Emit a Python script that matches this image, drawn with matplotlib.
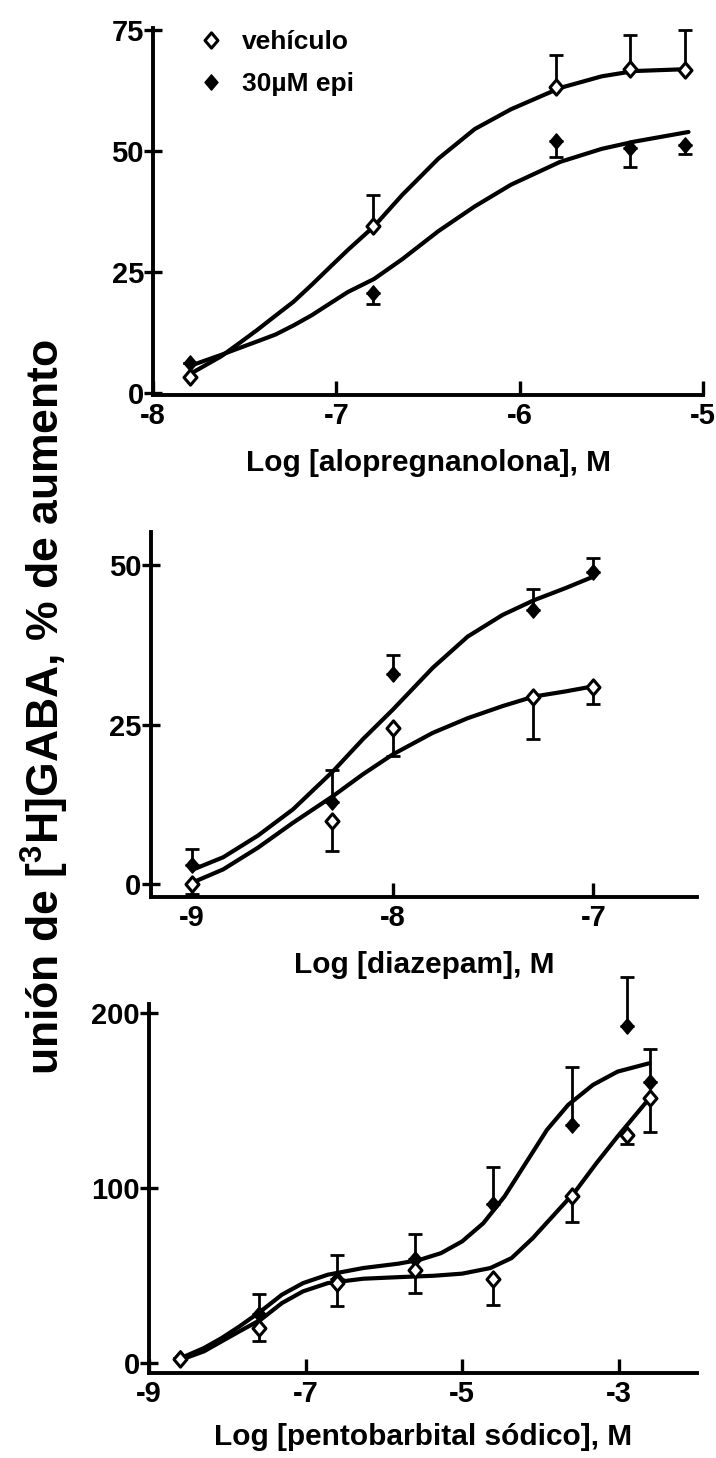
import matplotlib
matplotlib.use("Agg")
import matplotlib.pyplot as plt
from matplotlib.path import Path

plt.rcParams['font.family'] = ['Liberation Sans', 'DejaVu Sans']
plt.rcParams['font.weight'] = 'bold'
plt.rcParams['mathtext.fontset'] = 'custom'
plt.rcParams['mathtext.rm'] = 'Liberation Sans:bold'
plt.rcParams['mathtext.it'] = 'Liberation Sans:bold'
plt.rcParams['mathtext.bf'] = 'Liberation Sans:bold'

# ---- panel 1: alopregnanolona ----
alo_x = [-7.8, -6.8, -5.8, -5.4, -5.1]
alo_veh = [3.4, 34.6, 63.4, 67.1, 66.8]
alo_veh_err = [0, 6.4, 6.6, 6.9, 8.2]      # hacia arriba
alo_epi = [6.2, 20.7, 52.2, 50.7, 51.2]
alo_epi_err = [0, 2.2, 3.4, 3.9, 1.7]      # hacia abajo
alo_fit_x = [-7.80, -7.628, -7.53, -7.43, -7.332, -7.233, -7.134, -7.036, -6.937,
             -6.794, -6.64, -6.443, -6.245, -6.047, -5.78, -5.553, -5.375, -5.079]
alo_fit_veh = [3.9, 7.6, 10.3, 13.1, 16.0, 18.9, 22.4, 26.0, 29.6,
               34.5, 41.0, 48.5, 54.6, 58.7, 63.1, 65.5, 66.6, 67.0]
alo_fit_epi = [5.6, 7.9, 9.3, 10.7, 12.1, 14.0, 16.1, 18.5, 20.9,
               23.6, 27.7, 33.5, 38.6, 43.1, 47.8, 50.5, 52.0, 54.0]

# ---- panel 2: diazepam ----
dz_x = [-9, -8.3, -8, -7.3, -7]
dz_veh = [0, 9.9, 24.4, 29.4, 30.9]
dz_veh_err = [1.5, 4.8, 4.4, 6.6, 2.6]     # hacia abajo
dz_epi = [3.0, 12.9, 32.9, 42.9, 49.0]
dz_epi_err = [2.5, 4.9, 3.0, 3.4, 2.2]     # hacia arriba
dz_fit_x = [-8.991, -8.843, -8.67, -8.496, -8.296, -8.148, -8.0, -7.8,
            -7.626, -7.452, -7.296, -7.139, -7.0]
dz_fit_epi = [2.3, 4.2, 7.6, 11.7, 17.7, 22.7, 27.3, 33.9, 38.8, 42.2, 44.5, 46.4, 48.2]
dz_fit_veh = [0.3, 2.3, 5.7, 9.6, 13.8, 17.2, 20.3, 23.7, 26.0, 27.9, 29.4, 30.2, 31.0]

# ---- panel 3: pentobarbital ----
pb_x = [-8.6, -7.6, -6.6, -5.6, -4.6, -3.6, -2.9, -2.6]
pb_veh = [2.5, 20.0, 45.6, 52.9, 47.9, 95.1, 130.2, 151.5]
pb_veh_err = [0, 7.6, 13.3, 13.0, 14.6, 14.9, 5.1, 19.8]     # hacia abajo
pb_epi = [2.9, 28.1, 48.0, 59.5, 90.7, 135.6, 192.4, 160.1]
pb_epi_err = [0, 11.4, 13.8, 14.3, 21.1, 33.6, 28.1, 19.0]   # hacia arriba
pb_fit_epi_x = [-8.589, -8.296, -8.07, -7.844, -7.573, -7.302, -7.032, -6.716,
                -6.264, -5.813, -5.542, -5.27, -5.0, -4.729, -4.458, -4.187,
                -3.916, -3.646, -3.33, -3.014, -2.607]
pb_fit_epi = [2.9, 8.6, 14.3, 20.9, 29.5, 39.0, 45.6, 50.4, 54.2, 56.7, 58.9,
              62.7, 69.4, 79.8, 95.1, 114.1, 133.1, 147.3, 158.7, 166.3, 171.1]
pb_fit_veh_x = [-8.589, -8.296, -8.07, -7.844, -7.573, -7.302, -7.032, -6.716,
                -6.264, -5.813, -5.361, -5.0, -4.639, -4.368, -4.097, -3.826,
                -3.555, -3.284, -3.014, -2.607]
pb_fit_veh = [1.9, 6.7, 12.4, 18.1, 24.7, 34.2, 40.9, 45.6, 48.1, 49.0, 49.8,
              51.0, 54.2, 59.9, 71.3, 84.6, 97.9, 114.1, 129.3, 151.1]

diamond = Path([(0, 1), (0.85, 0), (0, -1), (-0.85, 0), (0, 1)],
               [Path.MOVETO, Path.LINETO, Path.LINETO, Path.LINETO, Path.CLOSEPOLY])

W, H = 716, 1458
fig = plt.figure(figsize=(W / 100, H / 100), dpi=100)


def make_ax(left, right, bottom_px, top_px):
    ax = fig.add_axes([left / W, 1 - bottom_px / H, (right - left) / W, (bottom_px - top_px) / H])
    ax.patch.set_visible(False)
    return ax


def style(ax, xlim, ylim, xticks, yticks, ybounds, xlabel, lab_y):
    ax.set_xlim(*xlim)
    ax.set_ylim(*ylim)
    ax.spines['top'].set_visible(False)
    ax.spines['right'].set_visible(False)
    for s in ('left', 'bottom'):
        ax.spines[s].set_linewidth(2.8)
    ax.spines['left'].set_bounds(*ybounds)
    ax.set_xticks(xticks)
    ax.set_yticks(yticks)
    ax.set_xticklabels([str(t) for t in xticks])
    ax.set_yticklabels([str(t) for t in yticks])
    ax.tick_params(axis='x', direction='in', length=10, width=2.4, labelsize=21, pad=5)
    ax.tick_params(axis='y', direction='inout', length=13, width=2.4, labelsize=21, pad=0)
    ax.set_xlabel(xlabel, fontsize=21.5, fontweight='bold')
    ax.xaxis.label.set_va('center')
    ax.xaxis.set_label_coords(0.5, lab_y)


def draw(ax, x, veh, veh_err, veh_up, epi, epi_err, epi_up, fvx, fveh, fex, fepi):
    ax.plot(fvx, fveh, color='black', lw=3.0, zorder=2, solid_capstyle='round')
    ax.plot(fex, fepi, color='black', lw=3.0, zorder=2, solid_capstyle='round')
    z = [0] * len(x)
    ve = [z, veh_err] if veh_up else [veh_err, z]
    ee = [z, epi_err] if epi_up else [epi_err, z]
    ax.errorbar(x, epi, yerr=ee, fmt='none', ecolor='black', elinewidth=2.0,
                capsize=5, capthick=2.0, zorder=3)
    ax.errorbar(x, veh, yerr=ve, fmt='none', ecolor='black', elinewidth=2.0,
                capsize=5, capthick=2.0, zorder=3)
    ax.plot(x, epi, linestyle='none', marker=diamond, markersize=11,
            markerfacecolor='black', markeredgecolor='black', zorder=4, label='30µM epi')
    ax.plot(x, veh, linestyle='none', marker=diamond, markersize=11, markeredgewidth=2.2,
            markerfacecolor='white', markeredgecolor='black', zorder=5, label='vehículo')


# panel 1
ax1 = make_ax(153, 703, 395, 28)
draw(ax1, alo_x, alo_veh, alo_veh_err, True, alo_epi, alo_epi_err, False,
     alo_fit_x, alo_fit_veh, alo_fit_x, alo_fit_epi)
style(ax1, (-8, -5), (-0.4, 75.5), [-8, -7, -6, -5], [0, 25, 50, 75], (-0.4, 75.5),
      'Log [alopregnanolona], M', -0.185)
h, l = ax1.get_legend_handles_labels()
ax1.legend([h[1], h[0]], [l[1], l[0]], loc='upper left', bbox_to_anchor=(0.038, 1.058),
           frameon=False, handlelength=1.0, handletextpad=0.67,
           labelspacing=0.68, prop={'weight': 'bold', 'size': 19})

# panel 2
ax2 = make_ax(150.6, 697, 897, 532)
draw(ax2, dz_x, dz_veh, dz_veh_err, False, dz_epi, dz_epi_err, True,
     dz_fit_x, dz_fit_veh, dz_fit_x, dz_fit_epi)
style(ax2, (-9.205, -6.484), (-2.04, 55.2), [-9, -8, -7], [0, 25, 50], (-2.04, 55.2),
      'Log [diazepam], M', -0.186)

# panel 3
ax3 = make_ax(149, 697, 1373, 974)
draw(ax3, pb_x, pb_veh, pb_veh_err, False, pb_epi, pb_epi_err, True,
     pb_fit_veh_x, pb_fit_veh, pb_fit_epi_x, pb_fit_epi)
style(ax3, (-9, -2), (-5.7, 222), [-9, -7, -5, -3], [0, 100, 200], (-5.7, 205),
      'Log [pentobarbital sódico], M', -0.160)

fig.text(0.063, 0.515, 'unión de [$^{3}$H]GABA, % de aumento', rotation=90,
         ha='center', va='center', fontsize=32, fontweight='bold')

fig.savefig('out.png', dpi=100)
